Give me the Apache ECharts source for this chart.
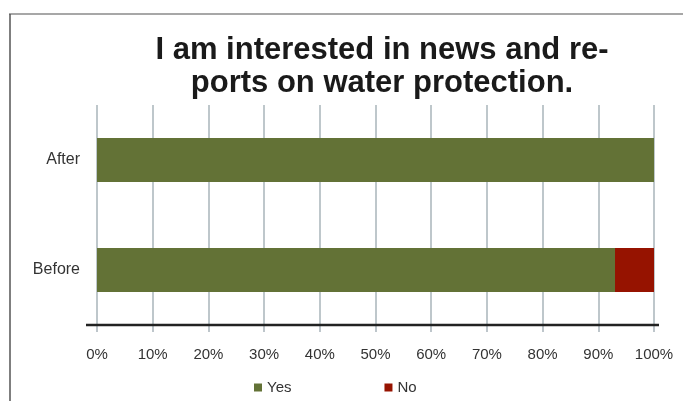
<!DOCTYPE html>
<html>
<head>
<meta charset="utf-8">
<script src="https://cdn.jsdelivr.net/npm/echarts@6/dist/echarts.min.js"></script>
<style>html,body{margin:0;padding:0;background:#fff}#c{width:683px;height:401px}</style>
</head>
<body>
<div id="c"></div>
<script>
var categories = ['Before', 'After'];
var yesValues = [93, 100];
var noValues = [7, 0];
var seriesNames = ['Yes', 'No'];
var titleText = 'I am interested in news and re-\nports on water protection.';

var chart = echarts.init(document.getElementById('c'), null, {renderer: 'canvas'});
var font = 'Liberation Sans, Arial, sans-serif';
chart.setOption({
  animation: false,
  backgroundColor: '#fff',
  title: {
    text: titleText,
    left: 377,
    top: 29,
    textAlign: 'center',
    textStyle: {fontFamily: font, fontWeight: 'bold', fontSize: 31, color: '#1a1a1a', lineHeight: 33}
  },
  legend: {
    data: seriesNames,
    left: 249,
    top: 375,
    icon: 'rect',
    itemWidth: 8,
    itemHeight: 8,
    itemGap: 93,
    textStyle: {fontFamily: font, fontSize: 15, color: '#333'}
  },
  grid: {left: 97, right: 29, top: 105, bottom: 76, containLabel: false},
  xAxis: {
    type: 'value',
    min: 0,
    max: 100,
    interval: 10,
    axisLine: {show: false},
    axisTick: {show: true, length: 7, lineStyle: {color: '#a9b4ba', width: 1.5}},
    splitLine: {show: true, lineStyle: {color: '#a9b4ba', width: 1.5}},
    axisLabel: {formatter: '{value}%', fontFamily: font, fontSize: 15, color: '#333', margin: 22}
  },
  yAxis: {
    type: 'category',
    data: categories,
    axisLine: {show: false},
    axisTick: {show: false},
    axisLabel: {fontFamily: font, fontSize: 16, color: '#333', margin: 17}
  },
  series: [
    {name: 'Yes', type: 'bar', stack: 's', data: yesValues, barWidth: 44, itemStyle: {color: '#637236'}},
    {name: 'No', type: 'bar', stack: 's', data: noValues, barWidth: 44, itemStyle: {color: '#961300'}}
  ],
  graphic: [
    {type: 'line', shape: {x1: 86, y1: 325, x2: 659, y2: 325}, style: {stroke: '#222', lineWidth: 2.5}, z: 10},
    {type: 'line', shape: {x1: 9, y1: 14, x2: 683, y2: 14}, style: {stroke: '#8a8a8a', lineWidth: 1.5}},
    {type: 'line', shape: {x1: 10, y1: 14, x2: 10, y2: 401}, style: {stroke: '#555', lineWidth: 1.5}}
  ]
});
</script>
</body>
</html>
